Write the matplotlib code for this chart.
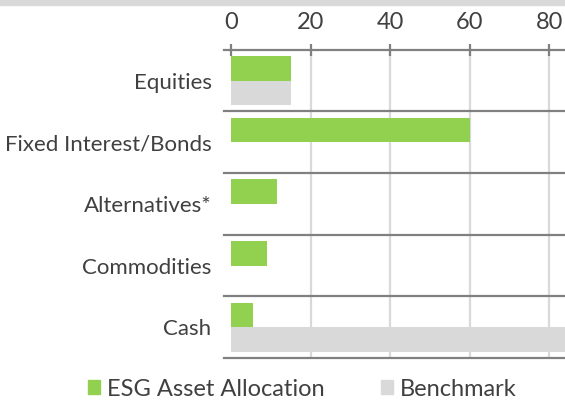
import matplotlib
matplotlib.use("Agg")
import matplotlib.pyplot as plt
from matplotlib.patches import Rectangle
from matplotlib.lines import Line2D
import matplotlib.transforms as mtrans
import numpy as np

categories = ["Equities", "Fixed Interest/Bonds", "Alternatives*", "Commodities", "Cash"]
esg_values = [15, 60, 11.5, 9, 5.6]
benchmark_values = [15, 0, 0, 0, 90]
x_ticks = [0, 20, 40, 60, 80]
series_names = ["ESG Asset Allocation", "Benchmark"]

GREEN = "#92d050"
GREY = "#d9d9d9"
DARK = "#808080"
TEXT = "#404040"

plt.rcParams['font.family'] = ['Lato', 'DejaVu Sans']

W, H = 565, 403
fig = plt.figure(figsize=(W/100, H/100), dpi=100)
ax = fig.add_axes([231/W, (H-358)/H, (W-231)/W, (358-49.7)/H])

# top grey band
fig.patches.append(Rectangle((0, (H-4.5)/H), 1, 4.5/H, transform=fig.transFigure,
                             color=GREY, zorder=0))

y = np.arange(len(categories))
bh = 0.40
ax.barh(y - bh/2, esg_values, height=bh, color=GREEN, zorder=3)
ax.barh(y + bh/2, benchmark_values, height=bh, color=GREY, zorder=3)

ax.set_xlim(0, (W-231)/3.98)
ax.set_ylim(len(categories)-0.5, -0.5)

# vertical gridlines
for t in x_ticks[1:]:
    ax.axvline(t, color=GREY, lw=1.6, zorder=1)

# separators
trans = mtrans.blended_transform_factory(fig.transFigure, ax.transData)
for s in np.arange(-0.5, len(categories), 1.0):
    ax.add_line(Line2D([224/W, 1], [s, s], transform=trans, color=DARK, lw=1.6,
                       clip_on=False, zorder=4))

for sp in ax.spines.values():
    sp.set_visible(False)
ax.add_line(Line2D([231/W, 231/W], [H-358 - 2, H-44], transform=fig.transFigure,
                   color=DARK, lw=1.6, zorder=5))

ax.xaxis.tick_top()
ax.set_xticks(x_ticks)
ax.set_xticklabels([str(t) for t in x_ticks])
ax.tick_params(axis='x', direction='inout', length=8, width=1.6, color=DARK,
               pad=8, labelsize=17, labelcolor=TEXT)
ax.set_yticks(y)
ax.set_yticklabels(categories)
ax.tick_params(axis='y', length=0, pad=14, labelsize=16, labelcolor=TEXT)

# legend
handles = [Rectangle((0, 0), 1, 1, color=GREEN), Rectangle((0, 0), 1, 1, color=GREY)]
leg = fig.legend(handles, series_names, loc='center', bbox_to_anchor=(0.535, (H-389)/H),
                 ncol=2, frameon=False, fontsize=17, handlelength=0.5, handleheight=0.5,
                 handletextpad=0.3, columnspacing=2.4, labelcolor=TEXT)

fig.savefig("out.png", dpi=100)
